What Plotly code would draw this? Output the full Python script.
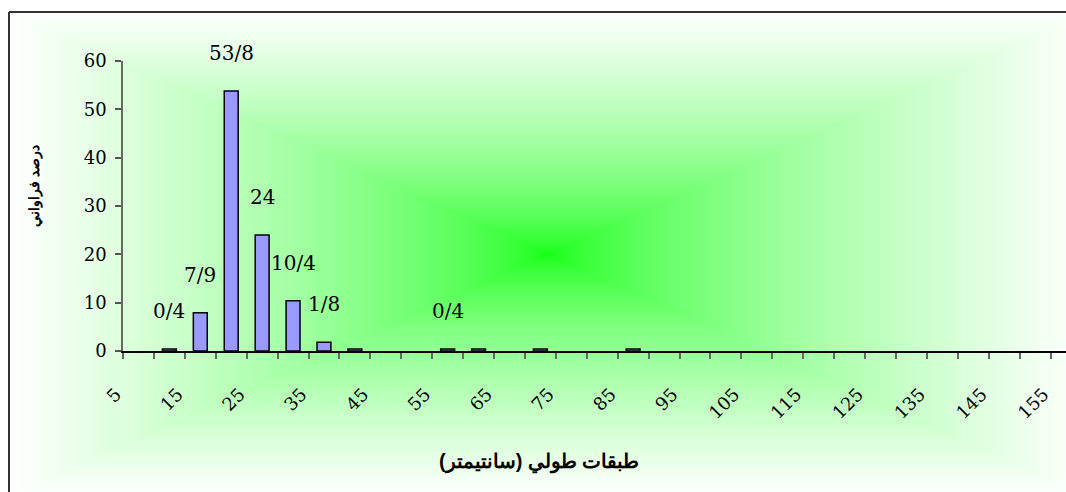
import base64, zlib, struct
import numpy as np
import plotly.graph_objects as go

# ---- data ----
categories = [5, 10, 15, 20, 25, 30, 35, 40, 45, 50, 55, 60, 65, 70, 75, 80, 85, 90, 95, 100,
              105, 110, 115, 120, 125, 130, 135, 140, 145, 150, 155]
values = [0, 0.4, 7.9, 53.8, 24, 10.4, 1.8, 0.4, 0, 0, 0.4, 0.4, 0, 0.4, 0, 0, 0.4, 0, 0, 0,
          0, 0, 0, 0, 0, 0, 0, 0, 0, 0, 0]
point_labels = ["", "0/4", "7/9", "53/8", "24", "10/4", "1/8", "", "", "", "0/4", "", "", "", "", "",
                "", "", "", "", "", "", "", "", "", "", "", "", "", "", ""]
y_title = "درصد فراواني"
x_title = "طبقات طولي (سانتيمتر)"

W, H = 1066, 492
ML, MR, MT, MB = 123, 0, 61, 141
PW, PH = W - ML - MR, H - MT - MB

def px2paper_x(px):
    return (px - ML) / PW

def px2paper_y(py):
    return (H - MB - py) / PH

# ---- background gradient (rectangular from centre) ----
gx0, gy0, gw, gh = 9, 12, 1078, 484
cx, cy = gw / 2, gh / 2
xs = np.arange(gw) + 0.5
ys = np.arange(gh) + 0.5
dx = np.abs(xs[None, :] - cx) / cx
dy = np.abs(ys[:, None] - cy) / cy
t = np.clip(np.maximum(dx, dy), 0, 1) ** 0.65
g0 = np.array([17, 255, 17], float)
g1 = np.array([255, 255, 255], float)
img = (g0[None, None, :] * (1 - t[..., None]) + g1[None, None, :] * t[..., None]).round().astype(np.uint8)

def png_uri(arr):
    h, w, _ = arr.shape
    raw = b"".join(b"\x00" + arr[r].tobytes() for r in range(h))
    def chunk(tag, data):
        c = struct.pack(">I", len(data)) + tag + data
        return c + struct.pack(">I", zlib.crc32(tag + data) & 0xffffffff)
    png = b"\x89PNG\r\n\x1a\n" + chunk(b"IHDR", struct.pack(">IIBBBBB", w, h, 8, 2, 0, 0, 0)) \
        + chunk(b"IDAT", zlib.compress(raw, 9)) + chunk(b"IEND", b"")
    return "data:image/png;base64," + base64.b64encode(png).decode()

idx = list(range(len(categories)))

fig = go.Figure()
fig.add_trace(go.Bar(
    x=idx, y=values, width=0.45,
    marker=dict(color="#9999FF",
                line=dict(color="black", width=[1.5 if v > 0 else 0 for v in values])),
    hoverinfo="skip",
))

tickvals = [i - 0.5 for i in range(len(categories) + 1)]
ticktext = [str(categories[i]) if (i < len(categories) and i % 2 == 0) else "" for i in range(len(categories) + 1)]

serif = "DejaVu Serif"
annotations = []
for i, (v, lab) in enumerate(zip(values, point_labels)):
    if lab:
        annotations.append(dict(x=i, y=v, text=lab, showarrow=False, yshift=38,
                                font=dict(family=serif, size=20, color="black")))
annotations.append(dict(xref="paper", yref="paper", x=px2paper_x(23), y=px2paper_y(186),
                        text=y_title, textangle=-90, showarrow=False,
                        font=dict(family="Liberation Sans", size=14, color="black", weight="bold")))
annotations.append(dict(xref="paper", yref="paper", x=px2paper_x(539), y=px2paper_y(476),
                        text=x_title, showarrow=False,
                        font=dict(family="Liberation Sans", size=20, color="black", weight="bold")))

shapes = [
    dict(type="line", xref="paper", yref="paper", x0=px2paper_x(9), x1=px2paper_x(1080),
         y0=px2paper_y(12), y1=px2paper_y(12), line=dict(color="#333333", width=2)),
    dict(type="line", xref="paper", yref="paper", x0=px2paper_x(9), x1=px2paper_x(9),
         y0=px2paper_y(12), y1=px2paper_y(500), line=dict(color="#333333", width=2)),
]

fig.update_layout(
    width=W, height=H,
    margin=dict(l=ML, r=MR, t=MT, b=MB),
    paper_bgcolor="white", plot_bgcolor="rgba(0,0,0,0)",
    showlegend=False,
    images=[dict(source=png_uri(img), xref="paper", yref="paper",
                 x=px2paper_x(gx0), y=px2paper_y(gy0), sizex=gw / PW, sizey=gh / PH,
                 xanchor="left", yanchor="top", sizing="stretch", layer="below")],
    annotations=annotations,
    shapes=shapes,
    xaxis=dict(range=[-0.5, 30.0], tickmode="array", tickvals=tickvals, ticktext=ticktext,
               tickangle=-45, ticks="outside", ticklen=6, tickwidth=1.5, tickcolor="#666666",
               showline=True, linecolor="black", linewidth=1.5, showgrid=False, zeroline=False,
               ticklabelstandoff=18, ticklabelshift=-7,
               tickfont=dict(family=serif, size=18, color="black")),
    yaxis=dict(range=[0, 60], dtick=10, ticks="outside", ticklen=6, tickwidth=1.5, tickcolor="#555555",
               showline=True, linecolor="#666666", linewidth=1.5, showgrid=False, zeroline=False,
               ticklabelstandoff=5,
               tickfont=dict(family=serif, size=18, color="black")),
)

fig.write_html("out.html")
